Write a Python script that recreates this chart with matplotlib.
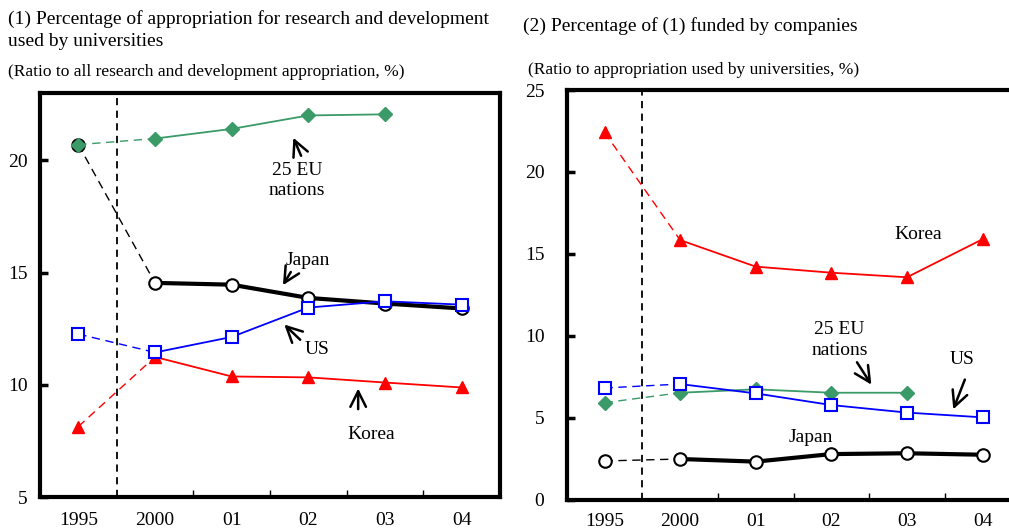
import matplotlib
matplotlib.use('Agg')
import matplotlib.pyplot as plt
from matplotlib.ticker import FixedLocator

plt.rcParams['font.family'] = ['Liberation Serif', 'DejaVu Serif']

years = ['1995', '2000', '01', '02', '03', '04']

# (1) share of R&D appropriation used by universities (%)
japan1 = [20.7, 14.54, 14.46, 13.87, 13.62, 13.40]
us1 = [12.26, 11.44, 12.13, 13.44, 13.72, 13.57]
korea1 = [8.14, 11.24, 10.37, 10.33, 10.10, 9.88]
eu1 = [20.70, 20.97, 21.40, 22.00, 22.05]

# (2) share of (1) funded by companies (%)
japan2 = [2.38, 2.50, 2.34, 2.80, 2.85, 2.76]
us2 = [6.83, 7.07, 6.50, 5.79, 5.33, 5.04]
korea2 = [22.42, 15.85, 14.23, 13.86, 13.58, 15.90]
eu2 = [5.93, 6.54, 6.75, 6.54, 6.54]

GREEN = '#3a9a68'

def draw_series(ax, vals, color, marker, mfc, lw, ms, mew, z):
  x = list(range(len(vals)))
  # 1995 -> 2000 dashed link
  ax.plot(x[:2], vals[:2], color=color, lw=1.0, ls=(0, (6, 4)), zorder=z)
  ax.plot(x[1:], vals[1:], color=color, lw=lw, zorder=z)
  ax.plot(x, vals, ls='none', marker=marker, ms=ms, mfc=mfc, mec=color, mew=mew, zorder=z + 0.5)

def style_axes(ax, ylim, yticks, xpad, ypad):
  ax.set_xlim(-0.5, 5.5)
  ax.set_ylim(*ylim)
  ax.set_yticks(yticks)
  ax.set_xticks(range(6))
  ax.set_xticklabels(years)
  ax.xaxis.set_minor_locator(FixedLocator([1.5, 2.5, 3.5, 4.5]))
  ax.tick_params(axis='x', which='major', length=0, pad=xpad, labelsize=14)
  ax.tick_params(axis='x', which='minor', direction='in', length=5, width=1)
  ax.tick_params(axis='y', direction='in', length=6, width=2.5, pad=ypad, labelsize=14)
  ax.tick_params(top=False, right=False)
  for s in ax.spines.values():
    s.set_linewidth(3)
  ax.axvline(0.5, color='black', lw=1.3, ls=(0, (4, 3)), zorder=1)

fig = plt.figure(figsize=(10.09, 5.32), dpi=100)

ax1 = fig.add_axes([40 / 1009, 35 / 532, 460 / 1009, 404 / 532])
draw_series(ax1, japan1, 'black', 'o', 'white', 3.0, 9, 1.5, 3)
draw_series(ax1, us1, 'blue', 's', 'white', 1.3, 9, 1.5, 4)
draw_series(ax1, korea1, 'red', '^', 'red', 1.3, 9, 1, 2)
draw_series(ax1, eu1, GREEN, 'D', GREEN, 1.3, 7.5, 1, 5)
style_axes(ax1, (5, 23), [5, 10, 15, 20], 11, 9)

ap = dict(arrowstyle='->', lw=1.8, color='black', mutation_scale=28)
ax1.annotate('', xy=(2.79, 21.12), xytext=(2.92, 20.09), arrowprops=ap)
ax1.text(2.85, 19.1, '25 EU\nnations', ha='center', va='center', fontsize=14, linespacing=1.25)
ax1.annotate('', xy=(2.65, 14.33), xytext=(2.79, 15.13), arrowprops=ap)
ax1.text(2.99, 15.55, 'Japan', ha='center', va='center', fontsize=14)
ax1.annotate('', xy=(2.66, 12.77), xytext=(2.92, 11.92), arrowprops=ap)
ax1.text(3.12, 11.55, 'US', ha='center', va='center', fontsize=14)
ax1.annotate('', xy=(3.65, 9.96), xytext=(3.65, 8.79), arrowprops=ap)
ax1.text(3.82, 7.8, 'Korea', ha='center', va='center', fontsize=14)

ax2 = fig.add_axes([566.7 / 1009, 32 / 532, 453.6 / 1009, 410 / 532])
draw_series(ax2, japan2, 'black', 'o', 'white', 3.0, 9, 1.5, 3)
draw_series(ax2, eu2, GREEN, 'D', GREEN, 1.3, 7.5, 1, 4)
draw_series(ax2, us2, 'blue', 's', 'white', 1.3, 9, 1.5, 5)
draw_series(ax2, korea2, 'red', '^', 'red', 1.3, 9, 1, 2)
style_axes(ax2, (0, 25), [0, 5, 10, 15, 20, 25], 9, 16)

ax2.text(4.15, 16.2, 'Korea', ha='center', va='center', fontsize=14)
ax2.text(3.11, 9.75, '25 EU\nnations', ha='center', va='center', fontsize=14, linespacing=1.25)
ax2.annotate('', xy=(3.55, 6.89), xytext=(3.32, 8.54), arrowprops=ap)
ax2.text(4.73, 8.55, 'US', ha='center', va='center', fontsize=14)
ax2.annotate('', xy=(4.6, 5.37), xytext=(4.78, 7.5), arrowprops=ap)
ax2.text(2.73, 3.84, 'Japan', ha='center', va='center', fontsize=14)

fig.text(8 / 1009, 1 - 19 / 532, '(1) Percentage of appropriation for research and development',
         ha='left', va='center', fontsize=14)
fig.text(8 / 1009, 1 - 41 / 532, 'used by universities', ha='left', va='center', fontsize=14)
fig.text(8 / 1009, 1 - 72 / 532, '(Ratio to all research and development appropriation, %)',
         ha='left', va='center', fontsize=12.5)
fig.text(523 / 1009, 1 - 26 / 532, '(2) Percentage of (1) funded by companies',
         ha='left', va='center', fontsize=14)
fig.text(528 / 1009, 1 - 70 / 532, '(Ratio to appropriation used by universities, %)',
         ha='left', va='center', fontsize=12.5)

fig.savefig('out.png', dpi=100)
